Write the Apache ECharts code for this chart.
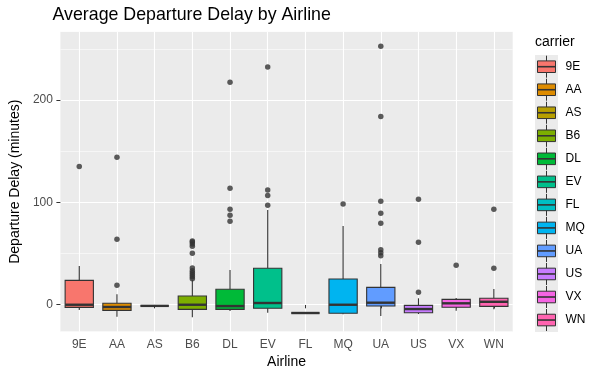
<!DOCTYPE html>
<html>
<head>
<meta charset="utf-8">
<script src="https://cdn.jsdelivr.net/npm/echarts@6/dist/echarts.min.js"></script>
<style>
  html, body { margin: 0; padding: 0; background: #fff; }
  #chart { width: 600px; height: 377px; }
</style>
</head>
<body>
<div id="chart"></div>
<script>
// 航空公司
var carriers = ['9E', 'AA', 'AS', 'B6', 'DL', 'EV', 'FL', 'MQ', 'UA', 'US', 'VX', 'WN'];
var carrierColors = ['#F8766D', '#DE8C00', '#B79F00', '#7CAE00', '#00BA38', '#00C08B',
	'#00BFC4', '#00B4F0', '#619CFF', '#C77CFF', '#F564E3', '#FF64B0'];

// 箱线图数据（须线下端、Q1、中位数、Q3、须线上端）
var whiskerLow = [-5.6, -12.1, -1.5, -12.7, -6.6, -8.2, -8.5, -9.8, -11.5, -9.5, -6.2, -4.9];
var q1 = [-3, -5.9, -1.5, -4.9, -4.9, -3.9, -8.5, -8.8, -1.7, -8.2, -2.9, -2];
var medians = [-0.4, -2.6, -1.5, -0.4, -1.7, 1.3, -8.5, -0.4, 1.6, -4.6, 1, 2.5];
var q3 = [23.5, 1, -1.5, 8.1, 14.7, 35.3, -8.5, 24.8, 16.6, -1, 4.9, 5.9];
var whiskerHigh = [37.5, 9.8, -1.5, 23.8, 33.6, 92.4, -8.5, 76.7, 39.5, 5.9, 6.2, 15];

// 离群点
var outlierCarriers = ['9E',
	'AA', 'AA', 'AA',
	'B6', 'B6', 'B6', 'B6', 'B6', 'B6', 'B6', 'B6', 'B6', 'B6', 'B6',
	'DL', 'DL', 'DL', 'DL', 'DL',
	'EV', 'EV', 'EV', 'EV',
	'MQ',
	'UA', 'UA', 'UA', 'UA', 'UA', 'UA', 'UA', 'UA',
	'US', 'US', 'US',
	'VX',
	'WN', 'WN'];
var outlierValues = [135,
	144, 63.7, 18.6,
	25, 27, 29, 31, 33, 35.5, 50, 57, 59, 61, 62,
	217.4, 113.6, 93, 87.2, 81.3,
	232.4, 112, 106.7, 97,
	98.2,
	252.7, 184, 100.9, 89.1, 79.3, 53.5, 50.5, 47.5,
	102.8, 60.7, 11.8,
	38.2,
	93, 35.3];

// y轴范围
var yMin = -26.8;
var yMax = 267;

var FONT = 'Liberation Sans, Arial, sans-serif';

var myChart = echarts.init(document.getElementById('chart'), null, { renderer: 'canvas' });

// 箱体数据
var boxData = [];
for (var i = 0; i < carriers.length; ++i) {
	boxData.push([i, whiskerLow[i], q1[i], medians[i], q3[i], whiskerHigh[i]]);
}

var outlierData = [];
for (var i = 0; i < outlierCarriers.length; ++i) {
	outlierData.push([outlierCarriers[i], outlierValues[i]]);
}

// 绘制箱线图（ggplot风格，无须线端帽）
function renderBox(params, api) {
	var idx = api.value(0);
	var band = api.size([1, 0])[0];
	var w = band * 0.75;
	var pLow = api.coord([idx, api.value(1)]);
	var pQ1 = api.coord([idx, api.value(2)]);
	var pMed = api.coord([idx, api.value(3)]);
	var pQ3 = api.coord([idx, api.value(4)]);
	var pHigh = api.coord([idx, api.value(5)]);
	var x = pMed[0];
	var stroke = { stroke: '#333333', lineWidth: 1.1 };
	return {
		type: 'group',
		children: [{
			type: 'line',
			shape: { x1: x, y1: pQ3[1], x2: x, y2: pHigh[1] },
			style: stroke
		}, {
			type: 'line',
			shape: { x1: x, y1: pQ1[1], x2: x, y2: pLow[1] },
			style: stroke
		}, {
			type: 'rect',
			shape: { x: x - w / 2, y: pQ3[1], width: w, height: pQ1[1] - pQ3[1] },
			style: { fill: carrierColors[idx], stroke: '#333333', lineWidth: 1.1 }
		}, {
			type: 'line',
			shape: { x1: x - w / 2, y1: pMed[1], x2: x + w / 2, y2: pMed[1] },
			style: { stroke: '#333333', lineWidth: 2.4 }
		}]
	};
}

// 图例（手绘 ggplot 样式）
var legendGraphics = [{
	type: 'text',
	left: 535,
	top: 35,
	style: { text: 'carrier', fill: '#000', font: '14px ' + FONT }
}, {
	type: 'rect',
	shape: { x: 535, y: 55, width: 23, height: 277 },
	style: { fill: '#EBEBEB' }
}];
for (var i = 0; i < carriers.length; ++i) {
	var cy = 66.7 + i * 23.03;
	legendGraphics.push({
		type: 'line',
		shape: { x1: 546.5, y1: cy - 11, x2: 546.5, y2: cy + 11 },
		style: { stroke: '#333333', lineWidth: 1 }
	});
	legendGraphics.push({
		type: 'rect',
		shape: { x: 537.5, y: cy - 5.8, width: 18, height: 11.6 },
		style: { fill: carrierColors[i], stroke: '#333333', lineWidth: 1 }
	});
	legendGraphics.push({
		type: 'line',
		shape: { x1: 537.5, y1: cy, x2: 555.5, y2: cy },
		style: { stroke: '#333333', lineWidth: 1.6 }
	});
	legendGraphics.push({
		type: 'text',
		x: 565.5,
		y: cy,
		style: { text: carriers[i], fill: '#000', font: '12px ' + FONT, verticalAlign: 'middle' }
	});
}

var option = {
	animation: false,
	backgroundColor: '#ffffff',
	title: {
		text: 'Average Departure Delay by Airline',
		left: 47.5,
		top: 1,
		textStyle: { fontFamily: FONT, fontSize: 17.8, fontWeight: 'normal', color: '#000' }
	},
	grid: {
		left: 52.7,
		right: 87.3,
		top: 31.7,
		bottom: 45.3,
		show: true,
		backgroundColor: '#EBEBEB',
		borderWidth: 0
	},
	xAxis: {
		type: 'category',
		data: carriers,
		boundaryGap: true,
		name: 'Airline',
		nameLocation: 'middle',
		nameGap: 21,
		nameTextStyle: { fontFamily: FONT, fontSize: 14, color: '#000' },
		axisLine: { show: false },
		axisTick: { show: true, alignWithLabel: true, length: 4, lineStyle: { color: '#333333' } },
		axisLabel: { margin: 7, fontFamily: FONT, fontSize: 12, color: '#4D4D4D' },
		splitLine: { show: true, alignWithLabel: true, lineStyle: { color: '#ffffff', width: 1.1 } }
	},
	yAxis: [{
		type: 'value',
		min: yMin,
		max: yMax,
		splitNumber: 3,
		name: 'Departure Delay (minutes)',
		nameLocation: 'middle',
		nameGap: 30,
		nameTextStyle: { fontFamily: FONT, fontSize: 14, color: '#000' },
		axisLine: { show: false },
		axisTick: { show: true, length: 4, lineStyle: { color: '#333333' }, customValues: [0, 100, 200] },
		axisLabel: { margin: 7.5, fontFamily: FONT, fontSize: 12, color: '#4D4D4D', customValues: [0, 100, 200] },
		splitLine: { show: true, lineStyle: { color: '#ffffff', width: 1.1 } },
		z: 3
	}, {
		// 次网格线
		type: 'value',
		min: yMin,
		max: yMax,
		splitNumber: 6,
		axisLine: { show: false },
		axisTick: { show: false },
		axisLabel: { show: false },
		splitLine: { show: true, lineStyle: { color: '#ffffff', width: 0.55 } },
		z: 2
	}],
	graphic: legendGraphics,
	series: [{
		name: 'box',
		type: 'custom',
		renderItem: renderBox,
		data: boxData,
		encode: { x: 0, y: [1, 2, 3, 4, 5] },
		z: 5
	}, {
		name: 'outliers',
		type: 'scatter',
		data: outlierData,
		symbolSize: 5.5,
		itemStyle: { color: '#333333' },
		z: 6
	}]
};

myChart.setOption(option);
</script>
</body>
</html>
